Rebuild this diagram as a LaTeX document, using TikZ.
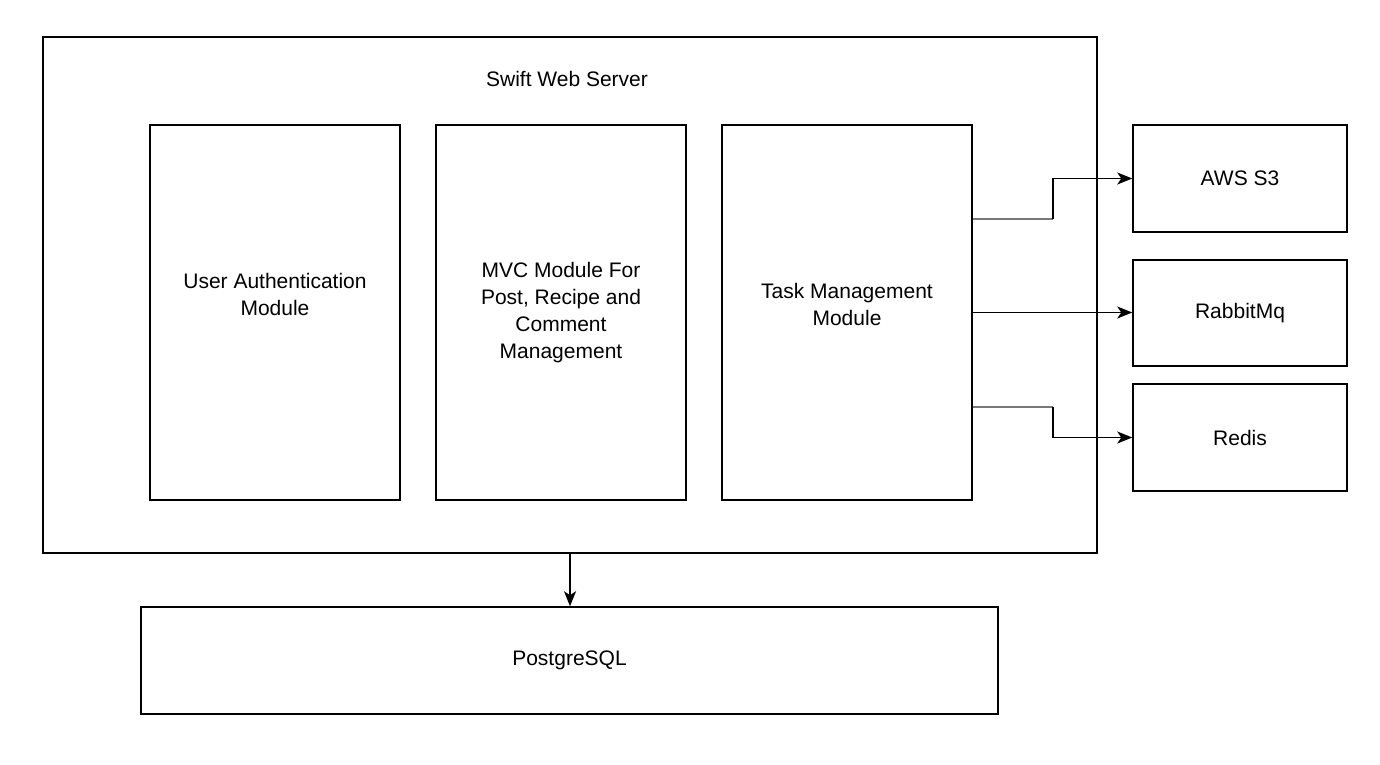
\documentclass[tikz,border=0pt]{standalone}
\usepackage{fontspec}
\setmainfont{Liberation Sans}
\usetikzlibrary{arrows.meta}
\definecolor{linkgray}{RGB}{120,120,120}

\begin{document}
\begin{tikzpicture}[x=1pt,y=-1pt,line width=1.5pt,
	box/.style={draw,rectangle,inner sep=0pt,align=center,font=\fontsize{21}{27}\selectfont},
	module/.style={box,minimum width=250pt,minimum height=375pt},
	service/.style={box,minimum width=214pt,minimum height=107pt},
	modtext/.style={align=center,font=\fontsize{21}{27}\selectfont},
	link/.style={-{Stealth[length=15pt,width=12pt,inset=4pt]}}]
	\useasboundingbox (0,0) rectangle (1380,764);
	\node[box,minimum width=1054pt,minimum height=516pt] (server) at (570,295) {};
	\node[modtext] (title) at (567,79) {Swift Web Server};
	\node[module,label={[modtext,yshift=18pt]center:{User Authentication\\Module}}] (auth) at (275,312.5) {};
	\node[module] (mvc) at (561,312.5) {MVC Module For\\Post, Recipe and\\Comment\\Management};
	\node[module,label={[modtext,yshift=8pt]center:{Task Management\\Module}}] (task) at (847,312.5) {};
	\node[service] (aws) at (1240,178.5) {AWS S3};
	\node[service,minimum height=106pt] (rabbit) at (1240,313) {RabbitMq};
	\node[service] (redis) at (1240,437.5) {Redis};
	\node[box,minimum width=857pt,minimum height=107pt] (db) at (569.5,660.5) {PostgreSQL};
	\draw[linkgray,line width=2pt] ([yshift=93.5pt]task.east) -- ++(80,0) coordinate (awsbend);
	\draw[link] (awsbend) |- (aws.west);
	\draw[link] (task.east) -- (task.east -| rabbit.west);
	\draw[linkgray,line width=2pt] ([yshift=-94.5pt]task.east) -- ++(80,0) coordinate (redisbend);
	\draw[link] (redisbend) |- (redis.west);
	\draw[link] (server.south) -- (server.south |- db.north);
\end{tikzpicture}
\end{document}
